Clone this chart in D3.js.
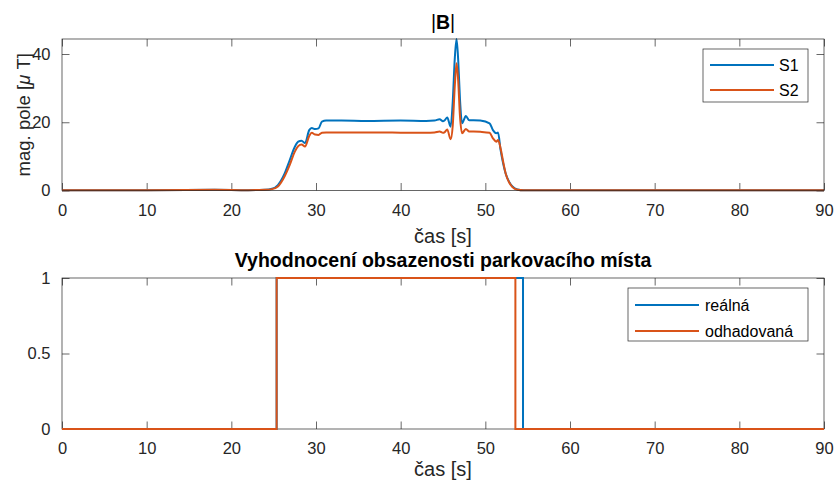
<!DOCTYPE html>
<html>
<head>
<meta charset="utf-8">
<script src="https://cdn.jsdelivr.net/npm/d3@7"></script>
<style>
  html, body { margin: 0; padding: 0; background: #fff; }
  svg { display: block; font-family: 'Liberation Sans', Arial, Helvetica, sans-serif; }
</style>
</head>
<body>
<svg id="chart" width="837" height="482"></svg>
<script>
// |B| from the two sensors (uT)
const TIME = [0, 10, 18, 22, 24, 24.8, 25.5, 26.3, 26.9, 27.5, 27.9, 28.3, 28.7, 29.2, 29.5, 29.9, 30.3, 30.7, 31.2,
  33, 36, 40, 43, 44, 44.6, 45.0, 45.2, 45.5, 45.9, 46.15, 46.4, 46.6, 46.8, 47.0, 47.25, 47.7, 48.1, 48.6, 49.4,
  50.5, 50.9, 51.3, 51.5, 51.8, 52.1, 52.4, 52.8, 53.2, 53.8, 54.5, 60, 70, 80, 90];
const S1 = [0.1, 0.1, 0.2, 0.1, 0.2, 0.5, 1.6, 5.0, 8.9, 12.8, 14.3, 14.6, 13.9, 17.7, 18.3, 18.0, 18.2, 20.2, 20.5,
  20.5, 20.4, 20.5, 20.4, 20.5, 20.9, 20.3, 20.6, 21.4, 18.7, 26.0, 39.0, 44.4, 38.0, 27.0, 19.7, 21.8, 20.6, 20.6, 20.5,
  19.7, 17.7, 16.8, 17.0, 11.9, 8.0, 5.0, 2.6, 1.2, 0.3, 0.05, 0.05, 0.05, 0.05, 0.05];
const S2 = [0.1, 0.1, 0.2, 0.1, 0.2, 0.4, 1.2, 4.2, 7.5, 11.4, 13.0, 13.5, 12.9, 16.0, 16.9, 16.4, 16.3, 16.9, 17.0,
  17.0, 17.0, 16.95, 16.9, 17.0, 17.3, 16.9, 17.1, 17.9, 15.0, 19.0, 31.0, 37.3, 32.0, 22.0, 16.8, 18.0, 17.3, 17.3, 17.2,
  16.9, 15.3, 14.3, 14.8, 12.4, 8.5, 5.0, 2.4, 1.0, 0.2, 0.05, 0.05, 0.05, 0.05, 0.05];

// occupancy: real vs. estimated (step changes)
const REAL_T = [0, 25.35, 54.45, 90];
const REAL_V = [0, 1, 0, 0];
const EST_T = [0, 25.35, 53.55, 90];
const EST_V = [0, 1, 0, 0];

const X_TICKS = [0, 10, 20, 30, 40, 50, 60, 70, 80, 90];
const Y1_TICKS = [0, 20, 40];
const Y2_TICKS = [0, 0.5, 1];

const BLUE = '#0072BD';
const ORANGE = '#D95319';
const AXIS = '#262626';

const svg = d3.select('#chart');

const x = d3.scaleLinear().domain([0, 90]).range([62, 824]);
const yTop = d3.scaleLinear().domain([0, 44.4]).range([190.5, 39]);
const yBot = d3.scaleLinear().domain([0, 1]).range([429, 278]);

function drawAxes(y, yTicks, fmt) {
  const [x0, x1] = x.range();
  const [yb, yt] = y.range();
  const g = svg.append('g');
  g.append('rect')
    .attr('x', x0).attr('y', yt)
    .attr('width', x1 - x0).attr('height', yb - yt)
    .attr('fill', '#fff');

  const tick = 7.5;
  // ticks point inwards on all four sides (matlab box on)
  const ax = g.append('g').attr('transform', `translate(0,${yb})`)
    .call(d3.axisBottom(x).tickValues(X_TICKS).tickSize(-tick).tickPadding(tick + 6).tickFormat(d3.format('d')));
  const axt = g.append('g').attr('transform', `translate(0,${yt})`)
    .call(d3.axisTop(x).tickValues(X_TICKS).tickSize(-tick).tickFormat(''));
  const ay = g.append('g').attr('transform', `translate(${x0},0)`)
    .call(d3.axisLeft(y).tickValues(yTicks).tickSize(-tick).tickPadding(tick + 4).tickFormat(fmt));
  const ayr = g.append('g').attr('transform', `translate(${x1},0)`)
    .call(d3.axisRight(y).tickValues(yTicks).tickSize(-tick).tickFormat(''));

  [ax, axt, ay, ayr].forEach((a) => {
    a.select('.domain').remove();
    a.selectAll('line').attr('stroke', AXIS).attr('stroke-width', 0.7);
    a.selectAll('text').attr('fill', AXIS).style('font-size', '16.5px').style('font-family', null);
  });
  return g;
}

function drawBox(y) {
  const [x0, x1] = x.range();
  const [yb, yt] = y.range();
  svg.append('rect')
    .attr('x', x0).attr('y', yt)
    .attr('width', x1 - x0).attr('height', yb - yt)
    .attr('fill', 'none')
    .attr('stroke', AXIS)
    .attr('stroke-width', 0.7);
}

function legend(x0, y0, w, h, items, lineX0, lineX1, textX, rowY) {
  const g = svg.append('g');
  g.append('rect')
    .attr('x', x0).attr('y', y0).attr('width', w).attr('height', h)
    .attr('fill', '#fff').attr('stroke', AXIS).attr('stroke-width', 0.7);
  items.forEach((it, i) => {
    g.append('line')
      .attr('x1', lineX0).attr('x2', lineX1)
      .attr('y1', rowY[i]).attr('y2', rowY[i])
      .attr('stroke', it.color).attr('stroke-width', 2);
    g.append('text')
      .attr('x', textX).attr('y', rowY[i])
      .attr('dy', '0.35em')
      .attr('fill', '#000')
      .style('font-size', '16px')
      .text(it.label);
  });
}

// ---------- top panel ----------
drawAxes(yTop, Y1_TICKS, d3.format('d'));

const line1 = d3.line()
  .x((d) => x(d[0]))
  .y((d) => yTop(d[1]))
  .curve(d3.curveMonotoneX);

svg.append('path')
  .datum(TIME.map((t, i) => [t, S1[i]]))
  .attr('d', line1)
  .attr('fill', 'none').attr('stroke', BLUE).attr('stroke-width', 2);
svg.append('path')
  .datum(TIME.map((t, i) => [t, S2[i]]))
  .attr('d', line1)
  .attr('fill', 'none').attr('stroke', ORANGE).attr('stroke-width', 2);

drawBox(yTop);

const title1 = svg.append('text')
  .attr('x', (x.range()[0] + x.range()[1]) / 2).attr('y', 29)
  .attr('text-anchor', 'middle')
  .attr('fill', '#000')
  .style('font-size', '19.5px')
  .style('font-weight', 'bold');
title1.append('tspan').style('font-weight', 'normal').text('|');
title1.append('tspan').text('B');
title1.append('tspan').style('font-weight', 'normal').text('|');

svg.append('text')
  .attr('x', 443).attr('y', 243)
  .attr('text-anchor', 'middle')
  .attr('fill', AXIS)
  .style('font-size', '20px')
  .text('čas [s]');

const ylab = svg.append('text')
  .attr('transform', `translate(24,${(39 + 190.5) / 2}) rotate(-90)`)
  .attr('dy', '0.35em')
  .attr('text-anchor', 'middle')
  .attr('fill', AXIS)
  .style('font-size', '18.5px');
ylab.append('tspan').text('mag. pole [');
ylab.append('tspan').style('font-style', 'italic').text('\u03bc ');
ylab.append('tspan').text('T]');

legend(703, 49, 105, 53, [{ label: 'S1', color: BLUE }, { label: 'S2', color: ORANGE }],
  710, 774, 779, [65, 90]);

// ---------- bottom panel ----------
drawAxes(yBot, Y2_TICKS, (d) => (d === 0.5 ? '0.5' : d3.format('d')(d)));

const line2 = d3.line()
  .x((d) => x(d[0]))
  .y((d) => yBot(d[1]))
  .curve(d3.curveStepAfter);

drawBox(yBot);

svg.append('path')
  .datum(REAL_T.map((t, i) => [t, REAL_V[i]]))
  .attr('d', line2)
  .attr('fill', 'none').attr('stroke', BLUE).attr('stroke-width', 2);
svg.append('path')
  .datum(EST_T.map((t, i) => [t, EST_V[i]]))
  .attr('d', line2)
  .attr('fill', 'none').attr('stroke', ORANGE).attr('stroke-width', 2);

svg.append('text')
  .attr('x', (x.range()[0] + x.range()[1]) / 2).attr('y', 267)
  .attr('text-anchor', 'middle')
  .attr('fill', '#000')
  .style('font-size', '19.5px')
  .style('font-weight', 'bold')
  .text('Vyhodnocení obsazenosti parkovacího místa');

svg.append('text')
  .attr('x', 443).attr('y', 476)
  .attr('text-anchor', 'middle')
  .attr('fill', AXIS)
  .style('font-size', '20px')
  .text('čas [s]');

legend(628, 288, 180, 53, [{ label: 'reálná', color: BLUE }, { label: 'odhadovaná', color: ORANGE }],
  635, 699, 705, [305, 331]);
</script>
</body>
</html>
